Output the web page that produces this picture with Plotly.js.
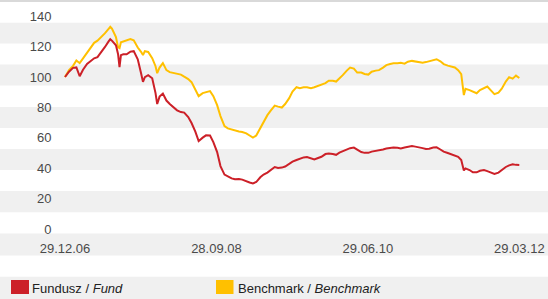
<!DOCTYPE html>
<html>
<head>
<meta charset="utf-8">
<script src="https://cdn.plot.ly/plotly-3.0.1.min.js"></script>
<style>html,body{margin:0;padding:0;background:#fff;}#chart{width:548px;height:299px;}</style>
</head>
<body>
<div id="chart"></div>
<script>
var dates = ['2006-12-29','2007-01-15','2007-02-01','2007-02-15','2007-03-01','2007-03-15','2007-04-01','2007-04-15','2007-05-01','2007-05-15',
'2007-06-01','2007-06-15','2007-07-01','2007-07-08','2007-07-15','2007-08-01','2007-08-10','2007-08-16','2007-08-22','2007-09-01',
'2007-09-15','2007-10-01','2007-10-15','2007-11-01','2007-11-15','2007-11-23','2007-12-01','2007-12-15','2008-01-01','2008-01-15',
'2008-01-22','2008-02-01','2008-02-15','2008-03-01','2008-03-15','2008-04-01','2008-04-15','2008-05-01','2008-05-15','2008-06-01',
'2008-06-15','2008-07-01','2008-07-15','2008-08-01','2008-08-15','2008-09-01','2008-09-15','2008-10-01','2008-10-15','2008-11-01',
'2008-11-15','2008-12-01','2008-12-15','2009-01-01','2009-01-15','2009-02-01','2009-02-15','2009-03-01','2009-03-15','2009-04-01',
'2009-04-15','2009-05-01','2009-05-15','2009-06-01','2009-06-15','2009-07-01','2009-07-15','2009-08-01','2009-08-15','2009-09-01',
'2009-09-15','2009-10-01','2009-10-15','2009-11-01','2009-11-15','2009-12-01','2009-12-15','2010-01-01','2010-01-15','2010-02-01',
'2010-02-15','2010-03-01','2010-03-15','2010-04-01','2010-04-15','2010-05-01','2010-05-15','2010-06-01','2010-06-15','2010-07-01',
'2010-07-15','2010-08-01','2010-08-15','2010-09-01','2010-09-15','2010-10-01','2010-10-15','2010-11-01','2010-11-15','2010-12-01',
'2010-12-15','2011-01-01','2011-01-15','2011-02-01','2011-02-15','2011-03-01','2011-03-15','2011-04-01','2011-04-15','2011-05-01',
'2011-05-15','2011-06-01','2011-06-15','2011-07-01','2011-07-15','2011-07-28','2011-08-08','2011-08-15','2011-09-01','2011-09-15',
'2011-10-01','2011-10-15','2011-11-01','2011-11-15','2011-12-01','2011-12-15','2012-01-01','2012-01-15','2012-02-01','2012-02-15',
'2012-03-01','2012-03-15','2012-03-29'];

var fund = [100,103.5,106.0,106.3,100.5,104.8,108.6,110.2,112.3,113.1,
116.4,119.6,123.4,124.8,123.9,120.9,115.0,106.5,114.4,115.0,
114.9,116.7,117.0,111.7,102.5,96.8,99.9,101.2,99.2,89.4,
82.2,87.1,89.1,84.5,82.2,79.7,78.1,76.9,76.6,73.6,
69.7,64.1,57.8,60.1,61.6,61.5,57.2,50.6,41.4,35.8,
34.5,33.3,32.7,32.9,32.5,31.2,30.6,30.0,30.9,34.0,
35.8,37.1,38.6,40.8,40.2,40.4,41.1,42.9,44.3,45.4,
46.3,47.1,47.3,46.7,45.7,46.7,47.5,49.3,49.7,49.3,
48.8,50.2,51.3,52.6,53.2,53.6,52.1,50.6,50.1,50.1,
50.9,51.3,51.7,52.3,53.0,53.4,53.6,53.4,53.0,53.6,
54.2,54.6,54.2,53.9,53.2,52.6,52.8,53.6,53.7,52.3,
50.9,50.0,49.3,48.3,47.5,45.4,38.5,39.9,38.8,37.3,
37.3,38.3,38.8,38.1,36.8,36.2,37.1,38.8,40.8,41.9,
42.6,42.2,42.1];

var bench = [100,104.5,107.3,110.8,109.1,112.1,115.9,119.2,122.5,123.9,
126.2,128.7,131.7,133.0,131.8,126.2,119.6,119.0,122.9,123.4,
123.8,124.9,124.2,119.4,116.6,114.4,117.0,116.5,112.4,107.1,
102.5,106.2,109.1,104.5,103.2,102.5,102.3,101.6,100.2,98.6,
96.6,92.0,87.4,89.4,90.0,90.7,87.4,81.5,74.3,67.7,
66.2,65.4,64.7,64.1,63.8,62.9,61.5,60.1,61.5,66.7,
71.0,74.9,77.9,81.2,80.5,79.9,82.2,86.1,90.4,93.3,
92.7,93.3,93.3,92.7,93.3,94.2,94.7,96.0,97.5,97.5,
97.0,98.9,101.2,104.2,106.2,105.5,102.9,102.9,102.0,101.6,
103.5,104.2,104.5,106.2,107.8,108.5,109.0,109.1,109.3,108.8,
110.1,110.6,110.1,109.8,109.4,109.8,110.3,111.4,111.7,110.3,
108.5,107.5,107.0,106.3,104.5,101.9,88.1,92.3,91.4,90.2,
89.3,91.4,92.7,93.7,91.0,88.7,89.7,92.3,97.0,99.9,
98.9,100.9,99.3];

var xTickVals = ['2006-12-29','2008-09-28','2010-06-29','2012-03-29'];
var xTickText = ['29.12.06','28.09.08','29.06.10','29.03.12'];
var yTickVals = [0,20,40,60,80,100,120,140];
var seriesNames = ['Fundusz / <i>Fund</i>', 'Benchmark / <i>Benchmark</i>'];

var RED = '#cc2028', YEL = '#ffc000', BAND = '#f0f0f0', TXT = '#4a4a4a';
var W = 548, H = 299, ML = 58, MR = 20, MT = 0, MB = 70;
var PW = W - ML - MR, PH = H - MT - MB;
function px2x(p){ return (p - ML) / PW; }
function py2y(p){ return (H - MB - p) / PH; }

var shapes = [];
var bands = [[22.7,43.5],[64.5,85.5],[107,128],[149,170],[191,212.3],[233.5,255.5],[276.8,299]];
bands.forEach(function(b){
  shapes.push({type:'rect', xref:'paper', yref:'paper', x0:px2x(0), x1:px2x(W), y0:py2y(b[1]), y1:py2y(b[0]),
    fillcolor:BAND, line:{width:0}, layer:'below'});
});
shapes.push({type:'rect', xref:'paper', yref:'paper', x0:px2x(0), x1:px2x(W), y0:py2y(2), y1:py2y(0),
  fillcolor:'#d9d9d9', line:{width:0}, layer:'below'});
// legend swatches
shapes.push({type:'rect', xref:'paper', yref:'paper', x0:px2x(11), x1:px2x(29), y0:py2y(294), y1:py2y(280), fillcolor:RED, line:{width:0}});
shapes.push({type:'rect', xref:'paper', yref:'paper', x0:px2x(216), x1:px2x(233.5), y0:py2y(294), y1:py2y(280), fillcolor:YEL, line:{width:0}});

var annotations = [
  {xref:'paper', yref:'paper', x:px2x(29.5), y:py2y(288), xanchor:'left', yanchor:'middle', showarrow:false, text:seriesNames[0], font:{size:13, color:'#222'}},
  {xref:'paper', yref:'paper', x:px2x(235.5), y:py2y(288), xanchor:'left', yanchor:'middle', showarrow:false, text:seriesNames[1], font:{size:13, color:'#222'}}
];

var DAY = 86400000;
var t0 = Date.parse('2006-12-29T00:00:00Z'), t1 = Date.parse('2012-03-29T00:00:00Z');
var pxStart = 65, pxEnd = 519.3;
var msPerPx = (t1 - t0) / (pxEnd - pxStart);
var r0 = new Date(t0 - (pxStart - ML) * msPerPx).toISOString().replace('T',' ').slice(0,19);
var r1 = new Date(t1 + (ML + PW - pxEnd) * msPerPx).toISOString().replace('T',' ').slice(0,19);

var traces = [
  {x:dates, y:bench, type:'scatter', mode:'lines', name:'Benchmark', line:{color:YEL, width:2}, hoverinfo:'skip'},
  {x:dates, y:fund, type:'scatter', mode:'lines', name:'Fundusz', line:{color:RED, width:2}, hoverinfo:'skip'}
];

var layout = {
  width:W, height:H,
  margin:{l:ML, r:MR, t:MT, b:MB, pad:0},
  paper_bgcolor:'#ffffff', plot_bgcolor:'rgba(0,0,0,0)',
  showlegend:false,
  font:{family:'"Liberation Sans", Arial, sans-serif', size:13, color:TXT},
  xaxis:{type:'date', range:[r0, r1], tickmode:'array', tickvals:xTickVals, ticktext:xTickText,
    showgrid:false, zeroline:false, showline:false, ticks:'outside', ticklen:7, tickcolor:'rgba(0,0,0,0)',
    tickfont:{size:13, color:TXT}, fixedrange:true},
  yaxis:{range:[0, PH/1.52], tickmode:'array', tickvals:yTickVals, showgrid:false, zeroline:false, showline:false,
    ticks:'outside', ticklen:3, tickcolor:'rgba(0,0,0,0)', tickfont:{size:13, color:TXT}, fixedrange:true},
  shapes:shapes,
  annotations:annotations
};

Plotly.newPlot('chart', traces, layout, {staticPlot:true, displayModeBar:false});
</script>
</body>
</html>
